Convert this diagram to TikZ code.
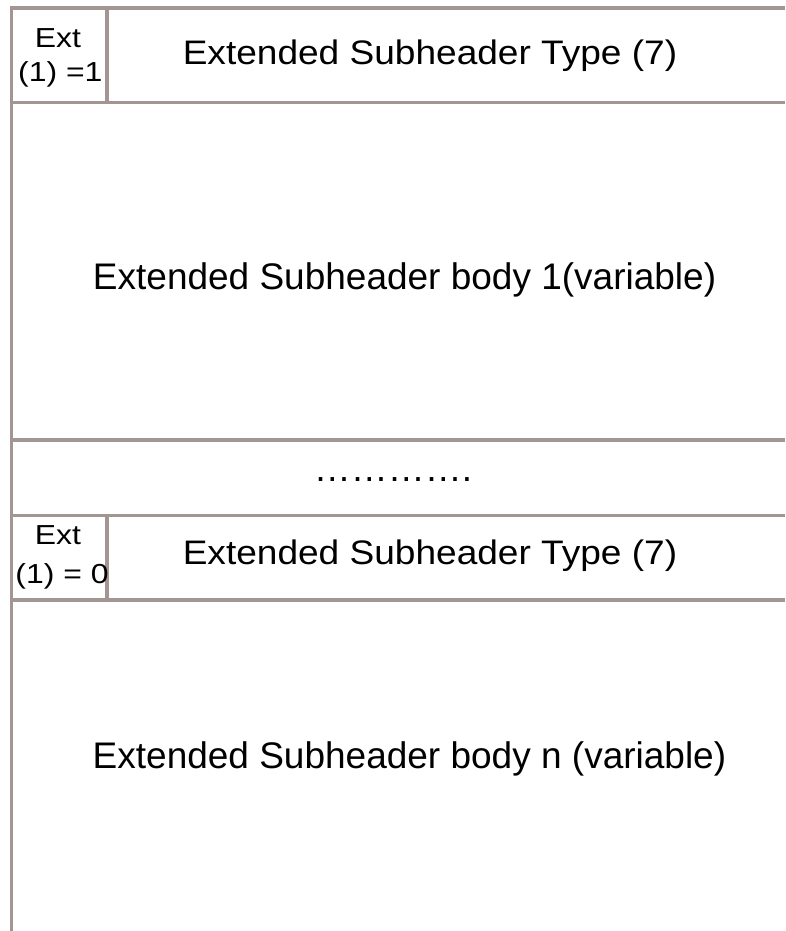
\documentclass[tikz,border=0pt]{standalone}
\usepackage{fontspec}
\setmainfont{Liberation Sans}
\definecolor{rulecol}{RGB}{163,150,146}
\begin{document}
\begin{tikzpicture}[x=1pt,y=-1pt,
  rl/.style={draw=rulecol,line width=3.2pt},
  bodytxt/.style={inner sep=0pt,anchor=base,font=\fontsize{37}{44}\selectfont},
  hdrtxt/.style={inner sep=0pt,anchor=base,font=\fontsize{34}{40}\selectfont},
  exttxt/.style={inner sep=0pt,anchor=base,font=\fontsize{27.5}{33}\selectfont}]
\useasboundingbox[fill=white] (0,0) rectangle (785,931);
% frame lines
\draw[rl] (10,8) -- (785,8);
\draw[rl] (11.5,6.5) -- (11.5,931);
\draw[rl] (10,102.5) -- (785,102.5);
\draw[rl] (107,8) -- (107,102.5);
\draw[rl] (10,440) -- (785,440);
\draw[rl] (10,515.5) -- (785,515.5);
\draw[rl] (107,515.5) -- (107,600);
\draw[rl] (10,600) -- (785,600);
% texts
\node[exttxt] (e1a) at (58,48) {\scalebox{1.16}[1]{Ext}};
\node[exttxt] (e1b) at (60.3,82) {\scalebox{1.16}[1]{(1) =1}};
\node[hdrtxt] (t1) at (430,64.3) {\scalebox{1.09}[1]{Extended Subheader Type (7)}};
\node[bodytxt] (b1) at (404.6,289.4) {Extended Subheader body 1(variable)};
\node[bodytxt] (dots) at (393,481.5) {………….};
\node[exttxt] (e2a) at (58,544) {\scalebox{1.16}[1]{Ext}};
\node[exttxt] (e2b) at (62,583.3) {\scalebox{1.16}[1]{(1) = 0}};
\node[hdrtxt] (t2) at (430,564) {\scalebox{1.09}[1]{Extended Subheader Type (7)}};
\node[bodytxt] (bn) at (409.5,768) {Extended Subheader body n (variable)};
\end{tikzpicture}
\end{document}
